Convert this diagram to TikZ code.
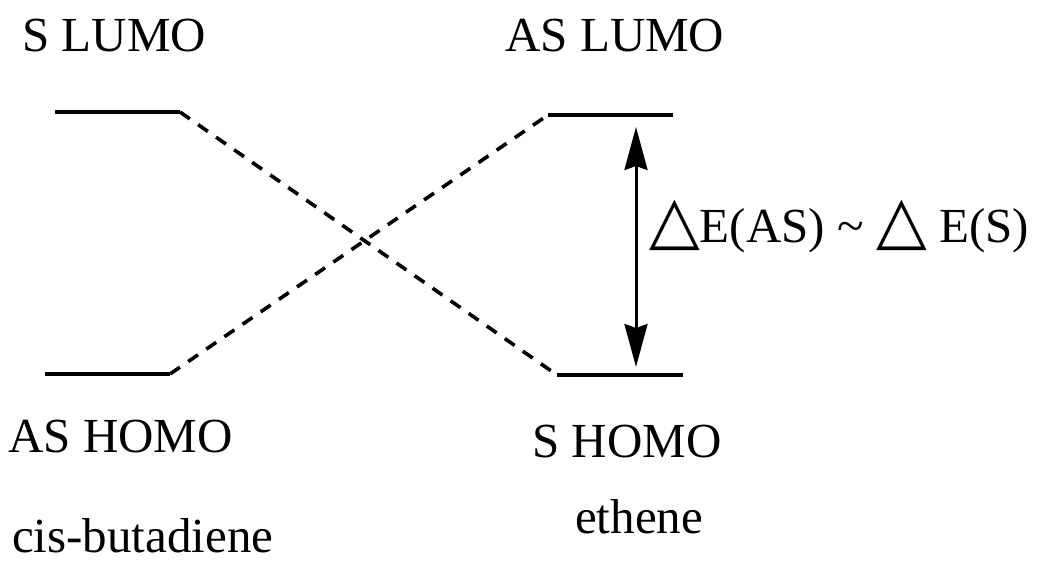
\documentclass[tikz,border=0pt]{standalone}
\usepackage{fontspec}
\setmainfont{Liberation Serif}
\newfontfamily\dejavu{DejaVu Sans}
\usetikzlibrary{arrows.meta}
\newcommand{\tri}{{\fontsize{66}{66}\selectfont\dejavu\bfseries △}}
\begin{document}
\begin{tikzpicture}[x=1pt,y=-1pt,
        lbl/.style={anchor=base west,inner sep=0pt,font=\fontsize{49}{49}\selectfont},
        level/.style={line width=3.6pt},
        corr/.style={line width=3.6pt,dash pattern=on 12pt off 10pt}]
        \useasboundingbox (0,0) rectangle (1047,575);
        % levels
        \coordinate (LA) at (55,112);
        \coordinate (LB) at (180,112);
        \coordinate (LC) at (45,374);
        \coordinate (LD) at (170,374);
        \coordinate (RA) at (548,115);
        \coordinate (RB) at (673,115);
        \coordinate (RC) at (557,375);
        \coordinate (RD) at (683,375);
        \draw[level] (LA) -- (LB);
        \draw[level] (LC) -- (LD);
        \draw[level] (RA) -- (RB);
        \draw[level] (RC) -- (RD);
        \draw[corr] (LB) -- (RC);
        \draw[corr] (LD) -- (RA);
        % labels
        \node[lbl] (slumo) at (22,52) {S LUMO};
        \node[lbl] (aslumo) at (505,52) {AS LUMO};
        \node[lbl] (ashomo) at (8,452) {AS HOMO};
        \node[lbl] (shomo) at (532,457) {S HOMO};
        \node[lbl] (diene) at (12,552) {cis-butadiene};
        \node[lbl] (ene) at (575,533) {ethene};
        % gap
        \coordinate (top) at (636,127);
        \coordinate (bot) at (636,367);
        \draw[line width=3pt,{Stealth[length=43pt,width=23pt,inset=4pt]}-{Stealth[length=43pt,width=23pt,inset=4pt]}] (top) -- (bot);
        \node[lbl] (gap) at (649,242) {\tri E(AS) \char`\~\ \tri\ E(S)};
    \end{tikzpicture}
\end{document}
